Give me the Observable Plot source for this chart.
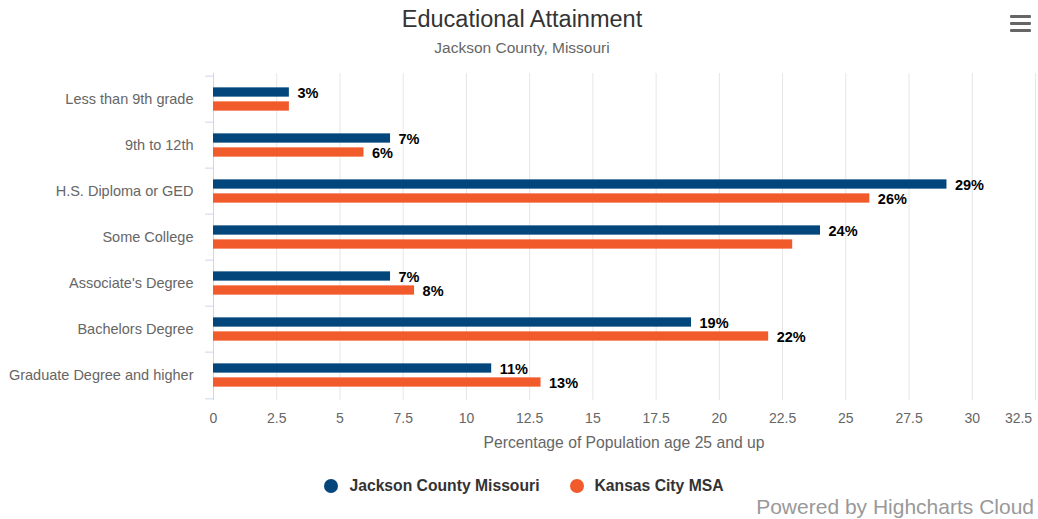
<!DOCTYPE html>
<html>
<head>
<meta charset="utf-8">
<script src="https://cdn.jsdelivr.net/npm/d3@7"></script>
<script src="https://cdn.jsdelivr.net/npm/@observablehq/plot@0.6"></script>
<style>
  html, body { margin: 0; padding: 0; background: #fff; }
  body { font-family: "Liberation Sans", Arial, sans-serif; }
  #wrap { position: relative; width: 1038px; height: 519px; overflow: hidden; }
  #chart { position: absolute; left: 0; top: 0; }
  .abs { position: absolute; white-space: nowrap; }
  #title { left: 0; width: 1044px; top: 6px; text-align: center; font-size: 23.5px; color: #333; }
  #subtitle { left: 0; width: 1044px; top: 39px; text-align: center; font-size: 15.5px; color: #666; }
  #xlabel { left: 213px; width: 822px; top: 434px; text-align: center; font-size: 15.7px; color: #666; }
  #legend { left: 0; width: 1048px; top: 477px; text-align: center; font-size: 15.7px; font-weight: bold; color: #333; }
  #legend span.item { display: inline-block; margin: 0 15px; }
  #legend span.dot { display: inline-block; width: 14px; height: 14px; border-radius: 7px; vertical-align: -2px; margin-right: 11px; }
  #credits { right: 4px; top: 495px; font-size: 21px; color: #999; }
  #menu { left: 1010px; top: 15px; width: 21px; }
  #menu div { height: 3px; background: #666; margin-bottom: 4px; border-radius: 1px; }
</style>
</head>
<body>
<div id="wrap">
  <div id="chart"></div>
  <div id="title" class="abs">Educational Attainment</div>
  <div id="subtitle" class="abs">Jackson County, Missouri</div>
  <div id="xlabel" class="abs">Percentage of Population age 25 and up</div>
  <div id="legend" class="abs"></div>
  <div id="credits" class="abs">Powered by Highcharts Cloud</div>
  <div id="menu" class="abs"><div></div><div></div><div></div></div>
</div>
<script>
const categories = [
  "Less than 9th grade",
  "9th to 12th",
  "H.S. Diploma or GED",
  "Some College",
  "Associate's Degree",
  "Bachelors Degree",
  "Graduate Degree and higher"
];
const seriesNames = ["Jackson County Missouri", "Kansas City MSA"];
const jacksonValues = [3.0, 7.0, 29.0, 24.0, 7.0, 18.9, 11.0];
const kcValues = [3.0, 5.95, 25.95, 22.9, 7.95, 21.95, 12.95];
// data labels hidden by the original chart (overlap)
const hiddenLabels = [["Kansas City MSA", "Less than 9th grade"], ["Kansas City MSA", "Some College"]];
const xTicks = [0, 2.5, 5, 7.5, 10, 12.5, 15, 17.5, 20, 22.5, 25, 27.5, 30, 32.5];
const colors = ["#03467c", "#f15a2b"];

const jData = categories.map((c, i) => ({category: c, series: seriesNames[0], value: jacksonValues[i]}));
const kData = categories.map((c, i) => ({category: c, series: seriesNames[1], value: kcValues[i]}));
const isShown = d => !hiddenLabels.some(([s, c]) => s === d.series && c === d.category);

const W = 1038, H = 519, mT = 73, mB = 119, mL = 213, mR = 3;
const bw = (H - mT - mB) / categories.length;
const fmt = d3.format(".0f");
const tickFmt = d => String(d);
const font = '"Liberation Sans", Arial, sans-serif';

const plot = Plot.plot({
  width: W, height: H,
  marginTop: mT, marginBottom: mB, marginLeft: mL, marginRight: mR,
  style: {fontFamily: font, background: "transparent"},
  x: {domain: [0, 32.5], label: null},
  y: {domain: categories, padding: 0, label: null},
  marks: [
    Plot.gridX(xTicks, {stroke: "#e6e6e6", strokeOpacity: 1}),
    Plot.ruleX([0], {stroke: "#ccd6eb"}),
    // category boundary ticks
    Plot.axisY({tickSize: 8, text: null, stroke: "#ccd6eb", dy: -bw / 2, label: null}),
    Plot.axisY([categories[categories.length - 1]], {tickSize: 8, text: null, stroke: "#ccd6eb", dy: bw / 2, label: null}),
    Plot.axisY({tickSize: 0, tickPadding: 20, fontSize: 14.5, fill: "#666", label: null}),
    Plot.axisX(xTicks.slice(0, -1), {tickSize: 0, tickPadding: 13, fontSize: 14, fill: "#666", label: null, tickFormat: tickFmt}),
    Plot.axisX(xTicks.slice(-1), {tickSize: 0, tickPadding: 13, fontSize: 14, fill: "#666", label: null, tickFormat: tickFmt, dx: -17}),
    Plot.barX(jData, {x: "value", y: "category", fill: colors[0], insetTop: bw / 2 - 12, insetBottom: bw / 2 + 2}),
    Plot.barX(kData, {x: "value", y: "category", fill: colors[1], insetTop: bw / 2 + 2, insetBottom: bw / 2 - 12}),
    Plot.text(jData.filter(isShown), {x: "value", y: "category", text: d => fmt(d.value) + "%", textAnchor: "start", dx: 8, dy: -6, fontSize: 14.5, fontWeight: "bold", fill: "#000"}),
    Plot.text(kData.filter(isShown), {x: "value", y: "category", text: d => fmt(d.value) + "%", textAnchor: "start", dx: 8, dy: 7.5, fontSize: 14.5, fontWeight: "bold", fill: "#000"})
  ]
});
document.getElementById("chart").appendChild(plot);

const legend = document.getElementById("legend");
seriesNames.forEach((s, i) => {
  const item = document.createElement("span");
  item.className = "item";
  const dot = document.createElement("span");
  dot.className = "dot";
  dot.style.background = colors[i];
  item.appendChild(dot);
  item.appendChild(document.createTextNode(s));
  legend.appendChild(item);
});
</script>
</body>
</html>
